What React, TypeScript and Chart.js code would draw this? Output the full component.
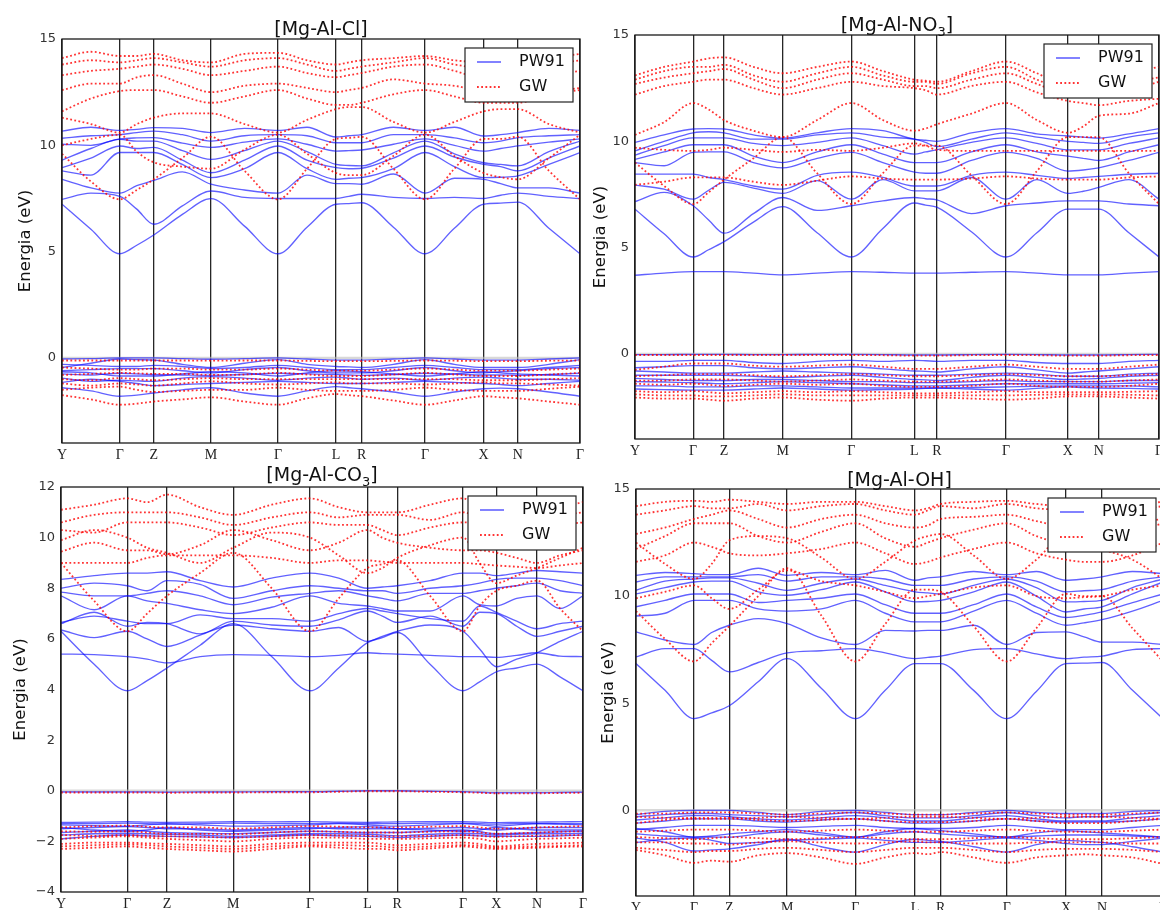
import React, { useEffect, useRef } from 'react';
import { Chart, registerables } from 'chart.js';

Chart.register(...registerables);

// ---------- shared labels ----------
const kLabels = ['Y', 'Γ', 'Z', 'M', 'Γ', 'L', 'R', 'Γ', 'X', 'N', 'Γ'];
const legendLabels = ['PW91', 'GW'];
const yTicks15 = [0, 5, 10, 15];
const yTicks12 = [-4, -2, 0, 2, 4, 6, 8, 10, 12];

// ---------- k-path tick positions (fraction of path) ----------
const kTicksCl = [0, 0.1116, 0.1771, 0.2876, 0.417, 0.529, 0.5786, 0.701, 0.8139, 0.8799, 1];
const kTicksNO3 = [0, 0.111, 0.17, 0.282, 0.413, 0.533, 0.576, 0.708, 0.826, 0.885, 1];
const kTicksCO3 = [0, 0.127, 0.203, 0.33, 0.477, 0.587, 0.644, 0.77, 0.834, 0.912, 1];
const kTicksOH = [0, 0.1102, 0.177, 0.2868, 0.4163, 0.5295, 0.578, 0.7034, 0.8159, 0.8843, 1];

// Each band: values at Y, mid, Γ, mid, Z, mid, M, mid, Γ, mid, L, mid, R, mid, Γ, mid, X, mid, N, mid, Γ

// ---------- [Mg-Al-Cl] ----------
const clPW91 = [
  [7.23, 6.05, 4.9, 5.3, 5.78, 6.75, 7.49, 6.2, 4.9, 6.15, 7.23, 7.26, 7.3, 6.15, 4.9, 6.1, 7.23, 7.28, 7.33, 6.1, 4.9],
  [7.46, 7.75, 7.6, 7.0, 6.29, 7.15, 7.85, 7.55, 7.5, 7.5, 7.5, 7.6, 7.7, 7.55, 7.5, 7.55, 7.5, 7.65, 7.75, 7.6, 7.5],
  [8.4, 8.0, 7.75, 8.1, 8.35, 8.75, 8.17, 7.9, 7.75, 8.6, 8.2, 8.2, 8.17, 8.65, 7.75, 8.45, 8.4, 8.2, 8.0, 8.0, 7.75],
  [8.8, 8.6, 9.66, 9.66, 9.66, 9.1, 8.48, 8.9, 9.66, 8.9, 8.4, 8.45, 8.48, 8.9, 9.66, 9.0, 8.48, 8.5, 8.56, 9.1, 9.66],
  [8.95, 9.4, 9.97, 9.85, 9.9, 9.3, 8.71, 9.3, 9.97, 9.3, 8.95, 8.9, 8.92, 9.4, 9.97, 9.45, 9.1, 9.0, 8.8, 9.4, 9.97],
  [9.3, 9.85, 10.28, 10.2, 10.2, 9.75, 9.34, 9.75, 10.2, 9.7, 9.1, 9.05, 9.03, 9.65, 10.2, 9.6, 9.18, 9.1, 9.03, 9.7, 10.2],
  [10.05, 10.0, 10.3, 10.35, 10.36, 10.1, 9.9, 10.15, 10.3, 10.05, 9.73, 9.75, 9.78, 10.05, 10.3, 10.0, 9.73, 9.85, 9.97, 10.15, 10.3],
  [10.33, 10.45, 10.5, 10.6, 10.67, 10.5, 10.2, 10.45, 10.5, 10.45, 10.12, 10.12, 10.12, 10.5, 10.5, 10.35, 10.12, 10.2, 10.36, 10.45, 10.5],
  [10.67, 10.85, 10.7, 10.75, 10.83, 10.8, 10.6, 10.8, 10.7, 10.85, 10.39, 10.45, 10.5, 10.85, 10.7, 10.85, 10.44, 10.5, 10.6, 10.8, 10.7],
  [-0.05, -0.03, 0, 0, 0, -0.03, -0.06, -0.03, 0, -0.05, -0.1, -0.1, -0.1, -0.05, 0, -0.05, -0.1, -0.1, -0.1, -0.05, 0],
  [-0.45, -0.25, -0.05, -0.08, -0.1, -0.3, -0.45, -0.25, -0.08, -0.3, -0.4, -0.42, -0.45, -0.3, -0.08, -0.3, -0.45, -0.45, -0.45, -0.3, -0.08],
  [-0.3, -0.35, -0.4, -0.4, -0.35, -0.4, -0.5, -0.45, -0.35, -0.45, -0.55, -0.55, -0.55, -0.45, -0.35, -0.45, -0.55, -0.55, -0.55, -0.45, -0.35],
  [-0.6, -0.55, -0.5, -0.5, -0.5, -0.6, -0.7, -0.55, -0.45, -0.6, -0.7, -0.7, -0.7, -0.6, -0.45, -0.6, -0.7, -0.65, -0.6, -0.5, -0.45],
  [-0.65, -0.7, -0.85, -0.85, -0.85, -0.75, -0.65, -0.7, -0.85, -0.7, -0.6, -0.62, -0.65, -0.75, -0.85, -0.75, -0.65, -0.7, -0.75, -0.8, -0.85],
  [-0.75, -0.8, -0.72, -0.75, -0.78, -0.8, -0.82, -0.78, -0.72, -0.75, -0.78, -0.8, -0.82, -0.78, -0.72, -0.76, -0.8, -0.8, -0.82, -0.78, -0.72],
  [-0.95, -1.1, -1.05, -1.08, -1.1, -0.95, -0.88, -0.95, -1.05, -0.95, -0.9, -0.95, -1.0, -0.95, -1.05, -0.95, -0.9, -0.95, -1.0, -1.0, -1.05],
  [-1.15, -1.0, -1.1, -1.2, -1.3, -1.25, -1.2, -1.15, -1.1, -1.15, -1.2, -1.2, -1.2, -1.15, -1.1, -1.15, -1.2, -1.25, -1.3, -1.2, -1.1],
  [-1.4, -1.55, -1.8, -1.75, -1.65, -1.5, -1.4, -1.65, -1.8, -1.55, -1.35, -1.4, -1.45, -1.6, -1.8, -1.6, -1.45, -1.42, -1.45, -1.6, -1.8],
];
const clGW = [
  [9.6, 8.3, 7.46, 7.9, 8.4, 9.4, 10.4, 8.8, 7.46, 8.9, 10.3, 10.35, 10.4, 8.9, 7.46, 8.9, 10.3, 10.3, 10.4, 8.8, 7.46],
  [10.0, 10.3, 10.5, 9.7, 9.2, 9.0, 8.9, 9.8, 10.5, 9.6, 8.7, 8.6, 8.6, 9.5, 10.5, 9.5, 8.7, 8.5, 8.4, 9.4, 10.5],
  [11.3, 11.0, 10.6, 11.0, 11.3, 11.5, 11.5, 11.0, 10.6, 11.2, 11.7, 11.8, 11.8, 11.1, 10.6, 11.1, 11.6, 11.7, 11.7, 11.0, 10.6],
  [11.6, 12.2, 12.55, 12.6, 12.6, 12.3, 12.0, 12.3, 12.6, 12.2, 11.9, 11.9, 12.0, 12.4, 12.6, 12.3, 12.0, 12.0, 12.0, 12.4, 12.6],
  [12.6, 12.9, 12.9, 13.2, 13.3, 12.9, 12.5, 12.8, 12.9, 12.7, 12.5, 12.6, 12.7, 13.1, 12.9, 12.8, 12.5, 12.4, 12.3, 12.5, 12.7],
  [13.3, 13.5, 13.6, 13.7, 13.8, 13.6, 13.3, 13.5, 13.7, 13.4, 13.2, 13.3, 13.4, 13.7, 13.8, 13.5, 13.1, 13.0, 13.0, 13.3, 13.5],
  [13.8, 14.0, 13.9, 14.0, 14.1, 13.9, 13.7, 14.0, 14.1, 13.8, 13.5, 13.6, 13.7, 13.9, 14.1, 13.8, 13.6, 13.5, 13.6, 13.8, 14.0],
  [14.1, 14.4, 14.2, 14.2, 14.3, 14.0, 13.9, 14.3, 14.35, 14.0, 13.8, 13.9, 14.0, 14.1, 14.2, 14.0, 13.9, 13.9, 14.0, 14.1, 14.3],
  [-0.12, -0.12, -0.12, -0.12, -0.12, -0.12, -0.13, -0.12, -0.12, -0.14, -0.15, -0.15, -0.15, -0.14, -0.12, -0.13, -0.15, -0.15, -0.15, -0.13, -0.12],
  [-0.45, -0.5, -0.55, -0.55, -0.5, -0.5, -0.55, -0.55, -0.5, -0.55, -0.6, -0.6, -0.6, -0.55, -0.5, -0.55, -0.6, -0.6, -0.6, -0.55, -0.5],
  [-0.8, -0.75, -0.7, -0.72, -0.75, -0.75, -0.8, -0.78, -0.7, -0.78, -0.85, -0.85, -0.85, -0.78, -0.7, -0.78, -0.85, -0.85, -0.85, -0.78, -0.7],
  [-1.0, -1.05, -0.95, -1.0, -1.05, -1.0, -0.95, -1.0, -1.0, -1.0, -1.0, -1.0, -1.0, -1.0, -1.0, -1.0, -1.05, -1.05, -1.05, -1.0, -0.95],
  [-1.2, -1.3, -1.2, -1.25, -1.3, -1.2, -1.1, -1.2, -1.25, -1.2, -1.15, -1.2, -1.2, -1.2, -1.25, -1.2, -1.15, -1.2, -1.2, -1.25, -1.3],
  [-1.5, -1.4, -1.35, -1.5, -1.6, -1.55, -1.5, -1.5, -1.4, -1.5, -1.55, -1.55, -1.55, -1.5, -1.4, -1.5, -1.55, -1.55, -1.55, -1.45, -1.35],
  [-1.75, -1.95, -2.2, -2.15, -2.05, -1.95, -1.85, -2.05, -2.2, -1.9, -1.7, -1.75, -1.8, -2.0, -2.2, -2.0, -1.8, -1.85, -1.9, -2.05, -2.2],
];

// ---------- [Mg-Al-NO3] ----------
const no3PW91 = [
  [3.7, 3.8, 3.87, 3.87, 3.87, 3.8, 3.72, 3.8, 3.87, 3.84, 3.8, 3.8, 3.8, 3.84, 3.87, 3.8, 3.72, 3.72, 3.72, 3.8, 3.87],
  [6.81, 5.65, 4.56, 4.9, 5.28, 6.2, 6.93, 5.7, 4.56, 5.9, 7.1, 7.0, 6.9, 5.75, 4.56, 5.7, 6.81, 6.81, 6.81, 5.7, 4.56],
  [7.17, 7.6, 6.97, 6.3, 5.68, 6.6, 7.36, 6.75, 6.97, 7.2, 7.36, 7.3, 7.25, 6.6, 6.97, 7.1, 7.2, 7.2, 7.2, 7.05, 6.97],
  [7.94, 7.75, 7.28, 7.7, 8.07, 7.8, 7.55, 8.15, 7.28, 8.2, 7.67, 7.67, 7.67, 8.3, 7.28, 8.2, 7.55, 7.65, 7.83, 8.2, 7.28],
  [8.46, 8.46, 8.46, 8.3, 8.2, 7.9, 7.75, 8.4, 8.55, 8.3, 7.9, 7.9, 7.9, 8.4, 8.55, 8.4, 8.25, 8.3, 8.35, 8.45, 8.5],
  [9.0, 8.85, 9.48, 9.5, 9.5, 9.0, 8.75, 9.2, 9.48, 9.0, 8.55, 8.5, 8.5, 9.1, 9.48, 9.2, 8.6, 8.65, 8.75, 9.1, 9.48],
  [9.15, 9.5, 9.84, 9.84, 9.84, 9.3, 9.0, 9.5, 9.84, 9.4, 9.0, 9.0, 9.0, 9.5, 9.84, 9.5, 9.3, 9.2, 9.1, 9.5, 9.84],
  [9.35, 9.8, 10.16, 10.16, 10.16, 9.9, 9.8, 9.95, 10.16, 9.8, 9.4, 9.5, 9.6, 9.95, 10.16, 9.9, 9.6, 9.6, 9.6, 9.9, 10.16],
  [9.55, 10.0, 10.4, 10.45, 10.4, 10.1, 10.1, 10.3, 10.4, 10.2, 10.1, 9.95, 9.75, 10.1, 10.4, 10.2, 10.0, 9.95, 9.9, 10.2, 10.4],
  [9.95, 10.3, 10.58, 10.6, 10.58, 10.3, 10.15, 10.4, 10.6, 10.5, 10.1, 10.05, 10.0, 10.4, 10.6, 10.35, 10.25, 10.2, 10.15, 10.35, 10.6],
  [-0.03, -0.03, -0.02, -0.02, -0.02, -0.03, -0.03, -0.02, -0.02, -0.03, -0.05, -0.05, -0.05, -0.03, -0.02, -0.03, -0.05, -0.05, -0.05, -0.03, -0.02],
  [-0.35, -0.35, -0.3, -0.3, -0.3, -0.4, -0.45, -0.35, -0.3, -0.35, -0.3, -0.32, -0.35, -0.3, -0.3, -0.4, -0.45, -0.45, -0.45, -0.35, -0.3],
  [-0.65, -0.6, -0.55, -0.55, -0.55, -0.65, -0.7, -0.65, -0.6, -0.7, -0.8, -0.82, -0.85, -0.7, -0.6, -0.75, -0.9, -0.85, -0.8, -0.7, -0.6],
  [-0.8, -0.85, -0.9, -0.9, -0.9, -0.85, -0.8, -0.85, -0.9, -0.95, -1.0, -1.0, -1.0, -0.95, -0.9, -0.95, -1.05, -1.05, -1.05, -0.95, -0.9],
  [-1.0, -1.0, -1.0, -1.0, -1.0, -1.05, -1.1, -1.05, -1.0, -1.1, -1.2, -1.22, -1.25, -1.1, -1.0, -1.1, -1.2, -1.18, -1.15, -1.05, -1.0],
  [-1.15, -1.2, -1.25, -1.25, -1.25, -1.2, -1.2, -1.25, -1.3, -1.3, -1.35, -1.35, -1.35, -1.3, -1.25, -1.3, -1.3, -1.3, -1.3, -1.25, -1.25],
  [-1.3, -1.32, -1.35, -1.38, -1.4, -1.35, -1.3, -1.35, -1.4, -1.45, -1.5, -1.5, -1.5, -1.45, -1.4, -1.4, -1.4, -1.4, -1.4, -1.38, -1.35],
  [-1.5, -1.5, -1.55, -1.55, -1.55, -1.5, -1.5, -1.55, -1.6, -1.6, -1.6, -1.6, -1.6, -1.58, -1.55, -1.52, -1.5, -1.5, -1.5, -1.5, -1.55],
  [-1.65, -1.68, -1.7, -1.7, -1.7, -1.65, -1.6, -1.65, -1.7, -1.68, -1.65, -1.62, -1.6, -1.65, -1.7, -1.62, -1.55, -1.58, -1.6, -1.62, -1.65],
];
const no3GW = [
  [9.0, 7.9, 7.05, 7.6, 8.2, 9.2, 10.2, 8.5, 7.05, 8.5, 9.8, 9.8, 9.8, 8.4, 7.05, 8.6, 10.2, 10.2, 10.2, 8.5, 7.05],
  [7.95, 8.1, 8.3, 8.3, 8.3, 8.1, 7.95, 8.15, 8.35, 8.25, 8.2, 8.2, 8.2, 8.25, 8.35, 8.25, 8.2, 8.2, 8.2, 8.3, 8.35],
  [9.7, 9.6, 9.55, 9.6, 9.7, 9.6, 9.5, 9.6, 9.55, 9.7, 9.9, 9.8, 9.6, 9.55, 9.55, 9.55, 9.55, 9.55, 9.55, 9.55, 9.55],
  [10.3, 10.9, 11.8, 11.5, 11.0, 10.5, 10.2, 11.0, 11.8, 11.0, 10.5, 10.6, 10.8, 11.3, 11.8, 11.0, 10.4, 10.7, 11.2, 11.3, 11.8],
  [12.2, 12.6, 12.8, 12.9, 12.9, 12.5, 12.2, 12.5, 12.8, 12.6, 12.5, 12.4, 12.2, 12.6, 12.8, 12.3, 11.9, 11.8, 11.7, 11.9, 12.0],
  [12.7, 13.0, 13.2, 13.3, 13.4, 12.9, 12.5, 12.9, 13.2, 12.9, 12.6, 12.6, 12.5, 12.9, 13.2, 12.7, 12.2, 12.2, 12.1, 12.4, 12.8],
  [12.9, 13.3, 13.5, 13.5, 13.6, 13.1, 12.8, 13.2, 13.5, 13.1, 12.8, 12.8, 12.7, 13.2, 13.5, 12.9, 12.4, 12.4, 12.5, 12.8, 13.0],
  [13.1, 13.5, 13.75, 13.9, 13.95, 13.5, 13.2, 13.5, 13.75, 13.3, 12.9, 12.85, 12.8, 13.3, 13.75, 13.2, 12.6, 12.7, 12.8, 13.2, 13.5],
  [-0.05, -0.05, -0.05, -0.05, -0.05, -0.05, -0.05, -0.05, -0.05, -0.06, -0.08, -0.08, -0.08, -0.06, -0.05, -0.06, -0.08, -0.08, -0.08, -0.06, -0.05],
  [-0.75, -0.6, -0.45, -0.45, -0.45, -0.55, -0.6, -0.55, -0.5, -0.6, -0.7, -0.7, -0.7, -0.6, -0.5, -0.6, -0.7, -0.7, -0.7, -0.6, -0.5],
  [-1.05, -1.0, -0.95, -0.95, -0.95, -1.0, -1.05, -1.0, -0.95, -1.0, -1.05, -1.05, -1.05, -1.0, -0.95, -1.0, -1.05, -1.05, -1.05, -1.0, -0.95],
  [-1.25, -1.25, -1.2, -1.2, -1.2, -1.25, -1.3, -1.25, -1.2, -1.25, -1.3, -1.3, -1.3, -1.25, -1.2, -1.25, -1.3, -1.3, -1.3, -1.25, -1.2],
  [-1.4, -1.45, -1.4, -1.45, -1.5, -1.45, -1.4, -1.45, -1.4, -1.5, -1.55, -1.55, -1.55, -1.5, -1.4, -1.5, -1.55, -1.55, -1.55, -1.5, -1.4],
  [-1.75, -1.8, -1.75, -1.8, -1.85, -1.8, -1.75, -1.8, -1.75, -1.8, -1.85, -1.85, -1.85, -1.8, -1.75, -1.8, -1.8, -1.8, -1.8, -1.78, -1.75],
  [-1.9, -1.95, -1.95, -2.0, -2.0, -1.95, -1.9, -1.95, -1.95, -1.95, -1.95, -1.95, -1.95, -1.95, -1.95, -1.92, -1.9, -1.9, -1.9, -1.92, -1.95],
  [-2.05, -2.1, -2.1, -2.15, -2.2, -2.1, -2.05, -2.15, -2.2, -2.1, -2.05, -2.05, -2.05, -2.1, -2.15, -2.1, -2.0, -2.0, -2.0, -2.05, -2.1],
];

// ---------- [Mg-Al-CO3] ----------
const co3PW91 = [
  [6.3, 5.0, 3.95, 4.35, 4.85, 5.75, 6.6, 5.3, 3.95, 4.85, 5.85, 6.05, 6.25, 5.0, 3.95, 4.3, 4.7, 4.85, 5.0, 4.5, 3.95],
  [5.4, 5.38, 5.3, 5.2, 5.05, 5.3, 5.38, 5.35, 5.3, 5.35, 5.45, 5.42, 5.4, 5.35, 5.3, 5.3, 5.27, 5.35, 5.45, 5.32, 5.3],
  [6.35, 6.05, 6.3, 6.0, 5.7, 6.15, 6.55, 6.4, 6.3, 6.45, 5.9, 6.1, 6.3, 6.55, 6.3, 5.6, 4.9, 5.2, 5.45, 5.9, 6.3],
  [6.6, 7.05, 6.5, 6.65, 6.6, 6.2, 6.7, 6.55, 6.5, 6.75, 7.1, 6.9, 6.65, 6.9, 6.5, 7.05, 7.0, 6.5, 6.1, 6.3, 6.5],
  [6.65, 6.9, 6.7, 6.6, 6.6, 6.95, 6.8, 6.8, 6.7, 7.0, 7.2, 7.1, 7.0, 6.8, 6.7, 7.3, 7.05, 6.7, 6.4, 6.6, 6.7],
  [7.7, 7.15, 7.7, 7.5, 7.4, 7.15, 7.0, 7.25, 7.7, 7.4, 7.3, 7.2, 7.1, 7.1, 7.7, 7.35, 7.3, 7.6, 7.7, 7.2, 7.7],
  [7.85, 7.7, 7.7, 7.8, 7.9, 7.7, 7.35, 7.65, 7.8, 7.9, 7.7, 7.6, 7.5, 7.8, 7.8, 7.9, 8.0, 8.1, 8.2, 7.9, 7.8],
  [8.0, 8.2, 8.1, 7.9, 8.3, 8.15, 7.6, 7.9, 8.1, 8.0, 7.9, 7.9, 7.8, 8.0, 8.1, 8.2, 8.35, 8.4, 8.4, 8.3, 8.1],
  [8.35, 8.5, 8.6, 8.6, 8.65, 8.3, 8.05, 8.4, 8.6, 8.4, 8.0, 8.05, 8.1, 8.3, 8.6, 8.6, 8.5, 8.6, 8.7, 8.65, 8.6],
  [-0.05, -0.05, -0.05, -0.05, -0.06, -0.05, -0.05, -0.04, -0.04, -0.02, 0.0, 0.0, 0.0, -0.02, -0.04, -0.06, -0.08, -0.08, -0.08, -0.07, -0.06],
  [-1.25, -1.24, -1.22, -1.24, -1.25, -1.24, -1.22, -1.23, -1.22, -1.24, -1.25, -1.24, -1.23, -1.22, -1.22, -1.24, -1.26, -1.25, -1.24, -1.23, -1.22],
  [-1.3, -1.3, -1.28, -1.3, -1.32, -1.3, -1.28, -1.3, -1.3, -1.28, -1.3, -1.3, -1.3, -1.28, -1.28, -1.3, -1.32, -1.3, -1.3, -1.3, -1.3],
  [-1.35, -1.38, -1.4, -1.35, -1.3, -1.35, -1.4, -1.38, -1.35, -1.3, -1.35, -1.38, -1.4, -1.35, -1.3, -1.35, -1.4, -1.35, -1.3, -1.32, -1.35],
  [-1.45, -1.55, -1.6, -1.55, -1.45, -1.55, -1.6, -1.55, -1.5, -1.45, -1.42, -1.45, -1.5, -1.55, -1.6, -1.55, -1.45, -1.5, -1.55, -1.55, -1.55],
  [-1.5, -1.45, -1.42, -1.45, -1.5, -1.5, -1.55, -1.5, -1.45, -1.5, -1.5, -1.5, -1.5, -1.48, -1.45, -1.5, -1.55, -1.5, -1.45, -1.45, -1.45],
  [-1.65, -1.6, -1.55, -1.6, -1.65, -1.68, -1.7, -1.65, -1.6, -1.62, -1.65, -1.65, -1.65, -1.6, -1.55, -1.62, -1.7, -1.68, -1.65, -1.62, -1.6],
  [-1.75, -1.7, -1.68, -1.7, -1.72, -1.75, -1.8, -1.75, -1.7, -1.7, -1.72, -1.75, -1.78, -1.72, -1.68, -1.7, -1.75, -1.72, -1.7, -1.7, -1.68],
  [-1.9, -1.8, -1.75, -1.78, -1.8, -1.82, -1.85, -1.8, -1.75, -1.78, -1.8, -1.82, -1.85, -1.8, -1.75, -1.78, -1.8, -1.8, -1.8, -1.78, -1.75],
];
const co3GW = [
  [9.0, 7.5, 6.3, 7.0, 7.7, 8.6, 9.4, 8.0, 6.3, 7.6, 8.8, 8.95, 9.1, 7.7, 6.3, 7.3, 7.9, 8.1, 8.3, 7.2, 6.3],
  [9.0, 9.0, 9.0, 9.2, 9.3, 9.3, 9.3, 9.2, 9.0, 9.1, 9.1, 9.05, 9.0, 9.0, 9.0, 8.95, 8.9, 8.85, 8.8, 8.9, 9.0],
  [9.45, 9.8, 9.5, 9.5, 9.35, 9.7, 10.3, 9.9, 9.5, 9.8, 10.3, 10.0, 9.8, 9.6, 9.5, 9.5, 9.4, 9.2, 9.0, 9.3, 9.5],
  [9.9, 10.3, 10.0, 9.6, 9.4, 9.0, 9.6, 10.2, 10.0, 9.3, 8.6, 8.8, 9.2, 9.7, 10.0, 9.0, 8.2, 8.5, 8.8, 9.2, 9.6],
  [10.3, 10.2, 10.6, 10.6, 10.6, 10.4, 10.1, 10.4, 10.6, 10.5, 10.5, 10.3, 10.1, 10.4, 10.6, 10.5, 10.0, 10.1, 10.3, 10.5, 10.6],
  [10.6, 10.9, 11.0, 11.0, 11.0, 10.8, 10.5, 10.8, 11.0, 10.8, 10.9, 10.9, 10.9, 10.7, 11.0, 10.8, 10.7, 10.8, 10.9, 10.9, 11.0],
  [11.1, 11.3, 11.55, 11.4, 11.7, 11.2, 10.9, 11.3, 11.55, 11.2, 11.0, 11.0, 11.0, 11.3, 11.55, 11.2, 11.0, 10.9, 11.0, 11.2, 11.4],
  [-0.07, -0.07, -0.07, -0.07, -0.08, -0.07, -0.07, -0.06, -0.06, -0.04, -0.02, -0.02, -0.02, -0.04, -0.06, -0.08, -0.1, -0.1, -0.1, -0.09, -0.08],
  [-1.45, -1.4, -1.38, -1.42, -1.45, -1.45, -1.5, -1.45, -1.4, -1.42, -1.45, -1.45, -1.45, -1.42, -1.4, -1.45, -1.5, -1.48, -1.45, -1.42, -1.4],
  [-1.6, -1.62, -1.6, -1.65, -1.7, -1.7, -1.72, -1.65, -1.6, -1.62, -1.65, -1.65, -1.65, -1.62, -1.6, -1.65, -1.7, -1.68, -1.65, -1.62, -1.6],
  [-1.75, -1.78, -1.75, -1.78, -1.8, -1.82, -1.85, -1.8, -1.75, -1.76, -1.78, -1.8, -1.8, -1.78, -1.75, -1.78, -1.82, -1.8, -1.78, -1.76, -1.75],
  [-1.9, -1.85, -1.8, -1.85, -1.9, -1.95, -2.0, -1.9, -1.85, -1.85, -1.9, -1.9, -1.9, -1.88, -1.85, -1.9, -2.0, -1.95, -1.9, -1.88, -1.85],
  [-2.1, -2.05, -2.05, -2.08, -2.1, -2.15, -2.2, -2.1, -2.05, -2.05, -2.05, -2.1, -2.15, -2.1, -2.05, -2.1, -2.2, -2.15, -2.1, -2.08, -2.05],
  [-2.2, -2.15, -2.12, -2.15, -2.2, -2.25, -2.3, -2.2, -2.15, -2.15, -2.18, -2.2, -2.25, -2.2, -2.15, -2.18, -2.25, -2.22, -2.2, -2.18, -2.15],
  [-2.3, -2.25, -2.2, -2.25, -2.3, -2.35, -2.4, -2.3, -2.2, -2.25, -2.3, -2.3, -2.35, -2.28, -2.2, -2.25, -2.3, -2.28, -2.25, -2.22, -2.2],
];

// ---------- [Mg-Al-OH] ----------
const ohPW91 = [
  [6.85, 5.6, 4.28, 4.55, 4.88, 6.0, 7.08, 5.7, 4.28, 5.6, 6.85, 6.85, 6.85, 5.6, 4.28, 5.55, 6.85, 6.87, 6.9, 5.6, 4.28],
  [7.16, 7.55, 7.55, 7.0, 6.46, 6.9, 7.35, 7.45, 7.55, 7.35, 7.08, 7.14, 7.2, 7.5, 7.55, 7.3, 7.08, 7.15, 7.2, 7.5, 7.55],
  [8.33, 7.95, 7.74, 8.3, 8.64, 8.95, 8.72, 8.05, 7.74, 8.4, 8.37, 8.4, 8.4, 8.64, 7.74, 8.3, 8.33, 8.1, 7.85, 7.85, 7.74],
  [9.07, 9.2, 9.8, 9.8, 9.8, 9.4, 9.3, 9.4, 9.8, 9.2, 8.8, 8.8, 8.8, 9.3, 9.8, 9.2, 8.64, 8.75, 8.9, 9.3, 9.8],
  [9.5, 9.8, 10.1, 10.1, 10.1, 9.7, 9.8, 9.9, 10.1, 9.6, 9.2, 9.2, 9.2, 9.6, 10.1, 9.5, 9.0, 9.1, 9.26, 9.7, 10.1],
  [10.1, 10.4, 10.66, 10.7, 10.7, 10.2, 10.04, 10.3, 10.66, 10.2, 9.73, 9.75, 9.8, 10.2, 10.66, 10.0, 9.26, 9.4, 9.5, 10.1, 10.66],
  [10.27, 10.7, 10.8, 10.85, 10.85, 10.6, 10.27, 10.6, 10.8, 10.5, 10.2, 10.15, 10.1, 10.5, 10.8, 10.4, 9.73, 9.75, 9.8, 10.4, 10.8],
  [10.66, 10.9, 10.9, 10.9, 10.9, 11.0, 10.7, 10.9, 10.9, 10.8, 10.5, 10.5, 10.5, 10.8, 10.9, 10.7, 10.2, 10.25, 10.3, 10.7, 10.9],
  [10.97, 11.1, 11.05, 11.0, 11.0, 11.3, 10.97, 11.1, 11.0, 11.2, 10.74, 10.85, 10.9, 11.15, 11.0, 11.15, 10.74, 10.8, 10.9, 11.15, 11.05],
  [-0.2, -0.05, 0, 0, 0, -0.1, -0.2, -0.05, 0, -0.1, -0.2, -0.2, -0.2, -0.1, 0, -0.1, -0.15, -0.15, -0.15, -0.05, 0],
  [-0.3, -0.2, -0.15, -0.15, -0.2, -0.25, -0.3, -0.2, -0.1, -0.25, -0.35, -0.35, -0.35, -0.25, -0.1, -0.25, -0.35, -0.3, -0.3, -0.2, -0.1],
  [-0.45, -0.35, -0.25, -0.25, -0.3, -0.4, -0.45, -0.35, -0.25, -0.35, -0.5, -0.5, -0.5, -0.35, -0.25, -0.4, -0.5, -0.5, -0.5, -0.35, -0.25],
  [-0.6, -0.5, -0.4, -0.4, -0.4, -0.5, -0.55, -0.45, -0.4, -0.5, -0.6, -0.6, -0.6, -0.5, -0.4, -0.5, -0.55, -0.55, -0.55, -0.5, -0.4],
  [-0.9, -0.8, -0.7, -0.7, -0.7, -0.75, -0.8, -0.75, -0.7, -0.8, -0.85, -0.85, -0.85, -0.8, -0.7, -0.8, -0.9, -0.9, -0.9, -0.8, -0.7],
  [-0.85, -1.0, -1.25, -1.2, -1.1, -1.0, -0.9, -1.05, -1.25, -1.0, -0.85, -0.9, -0.95, -1.1, -1.25, -1.05, -0.95, -1.0, -1.05, -1.15, -1.25],
  [-1.1, -1.2, -1.25, -1.25, -1.25, -1.1, -1.0, -1.15, -1.25, -1.1, -1.0, -1.05, -1.1, -1.2, -1.25, -1.2, -1.15, -1.15, -1.15, -1.2, -1.25],
  [-1.5, -1.35, -1.3, -1.4, -1.55, -1.5, -1.4, -1.35, -1.3, -1.4, -1.5, -1.5, -1.5, -1.4, -1.3, -1.4, -1.55, -1.6, -1.6, -1.45, -1.3],
  [-1.3, -1.5, -1.9, -1.85, -1.8, -1.6, -1.35, -1.7, -1.95, -1.6, -1.35, -1.4, -1.45, -1.7, -1.95, -1.6, -1.4, -1.45, -1.5, -1.7, -1.95],
];
const ohGW = [
  [9.3, 8.0, 6.95, 7.8, 8.6, 10.0, 11.3, 9.1, 6.95, 8.7, 10.3, 10.3, 10.2, 8.6, 6.95, 8.5, 10.1, 10.0, 10.0, 8.5, 6.95],
  [9.9, 10.2, 10.5, 9.9, 9.4, 10.3, 11.2, 10.7, 10.5, 10.2, 9.9, 10.0, 10.1, 10.4, 10.5, 10.0, 9.9, 9.95, 10.0, 10.3, 10.5],
  [12.5, 11.5, 10.8, 11.5, 12.6, 12.8, 12.7, 11.8, 10.8, 11.6, 12.6, 12.8, 12.9, 11.9, 10.8, 11.7, 12.9, 12.6, 12.2, 11.7, 10.8],
  [11.6, 11.9, 12.5, 12.3, 12.0, 11.9, 12.0, 12.2, 12.5, 12.0, 11.5, 11.6, 11.8, 12.2, 12.5, 12.0, 11.7, 11.6, 11.6, 11.9, 12.5],
  [12.2, 12.8, 13.4, 13.4, 13.4, 12.8, 12.5, 13.0, 13.4, 12.7, 12.3, 12.5, 12.7, 13.1, 13.4, 12.8, 12.4, 12.3, 12.5, 13.0, 13.4],
  [12.9, 13.2, 13.6, 13.8, 14.0, 13.6, 13.2, 13.6, 13.8, 13.4, 13.2, 13.3, 13.6, 13.7, 13.8, 13.5, 13.2, 13.1, 13.2, 13.4, 13.6],
  [13.8, 14.0, 14.2, 14.1, 14.1, 14.3, 14.0, 14.2, 14.3, 14.0, 13.8, 14.0, 14.2, 14.1, 14.3, 14.1, 14.0, 13.9, 13.8, 14.0, 14.2],
  [14.2, 14.4, 14.45, 14.4, 14.5, 14.4, 14.3, 14.4, 14.4, 14.2, 14.0, 14.1, 14.3, 14.4, 14.45, 14.3, 14.2, 14.2, 14.3, 14.3, 14.4],
  [-0.15, -0.15, -0.1, -0.1, -0.1, -0.15, -0.2, -0.15, -0.1, -0.15, -0.2, -0.2, -0.2, -0.15, -0.1, -0.15, -0.2, -0.2, -0.2, -0.15, -0.1],
  [-0.3, -0.35, -0.4, -0.4, -0.4, -0.35, -0.3, -0.35, -0.4, -0.35, -0.3, -0.3, -0.3, -0.35, -0.4, -0.35, -0.3, -0.3, -0.3, -0.35, -0.4],
  [-0.6, -0.45, -0.35, -0.35, -0.35, -0.45, -0.5, -0.45, -0.4, -0.5, -0.55, -0.55, -0.55, -0.5, -0.4, -0.5, -0.6, -0.6, -0.6, -0.5, -0.4],
  [-1.0, -0.95, -0.9, -0.9, -0.9, -0.95, -1.0, -0.95, -0.9, -0.95, -1.0, -1.0, -1.0, -0.95, -0.9, -0.95, -1.0, -1.0, -1.0, -0.95, -0.9],
  [-1.25, -1.3, -1.35, -1.3, -1.25, -1.3, -1.35, -1.3, -1.25, -1.3, -1.35, -1.35, -1.35, -1.3, -1.25, -1.3, -1.35, -1.35, -1.35, -1.3, -1.25],
  [-1.5, -1.5, -1.55, -1.55, -1.6, -1.5, -1.45, -1.5, -1.55, -1.5, -1.45, -1.5, -1.5, -1.55, -1.55, -1.5, -1.5, -1.5, -1.5, -1.55, -1.55],
  [-1.75, -1.85, -1.95, -1.9, -1.9, -1.8, -1.75, -1.85, -1.95, -1.85, -1.75, -1.75, -1.75, -1.85, -1.95, -1.85, -1.8, -1.8, -1.8, -1.85, -1.95],
  [-1.85, -2.1, -2.45, -2.35, -2.4, -2.1, -2.0, -2.2, -2.5, -2.2, -2.0, -2.05, -1.95, -2.2, -2.45, -2.2, -2.1, -2.05, -2.1, -2.2, -2.5],
];

// ---------- panel layout ----------
type TitlePart = { text: string; sub?: boolean };
type Panel = {
  title: TitlePart[];
  kTicks: number[];
  pw91: number[][];
  gw: number[][];
  yMin: number;
  yMax: number;
  yTicks: number[];
  canvas: { x: number; y: number; w: number; h: number };
  area: { l: number; t: number; r: number; b: number };
  yTitleOffset: number;
  titleGap: number;
};

const panels: Panel[] = [
  {
    title: [{ text: '[Mg-Al-Cl]' }],
    kTicks: kTicksCl, pw91: clPW91, gw: clGW, yMin: -4, yMax: 15, yTicks: yTicks15,
    canvas: { x: 0, y: 0, w: 592, h: 470 },
    area: { l: 62, t: 39, r: 580, b: 443 }, yTitleOffset: 16, titleGap: 4.5,
  },
  {
    title: [{ text: '[Mg-Al-NO' }, { text: '3', sub: true }, { text: ']' }],
    kTicks: kTicksNO3, pw91: no3PW91, gw: no3GW, yMin: -4, yMax: 15, yTicks: yTicks15,
    canvas: { x: 580, y: 0, w: 590, h: 470 },
    area: { l: 635, t: 35, r: 1159, b: 439 }, yTitleOffset: 10.5, titleGap: 4.5,
  },
  {
    title: [{ text: '[Mg-Al-CO' }, { text: '3', sub: true }, { text: ']' }],
    kTicks: kTicksCO3, pw91: co3PW91, gw: co3GW, yMin: -4, yMax: 12, yTicks: yTicks12,
    canvas: { x: 0, y: 455, w: 600, h: 455 },
    area: { l: 61, t: 487, r: 583, b: 892 }, yTitleOffset: 11.3, titleGap: 6,
  },
  {
    title: [{ text: '[Mg-Al-OH]' }],
    kTicks: kTicksOH, pw91: ohPW91, gw: ohGW, yMin: -4, yMax: 15, yTicks: yTicks15,
    canvas: { x: 580, y: 455, w: 595, h: 455 },
    area: { l: 636, t: 489, r: 1163, b: 896 }, yTitleOffset: 18.5, titleGap: 3.5,
  },
];

const BLUE = 'rgba(0,0,255,0.62)';
const RED = 'rgba(255,0,0,0.8)';
const FONT = '"DejaVu Sans", sans-serif';

function kGrid(ticks: number[]): number[] {
  const g: number[] = [];
  for (let i = 0; i < ticks.length; i++) {
    g.push(ticks[i]);
    if (i < ticks.length - 1) g.push((ticks[i] + ticks[i + 1]) / 2);
  }
  return g;
}

function fmt(v: number): string {
  return v < 0 ? '\u2212' + Math.abs(v) : String(v);
}

function decorPlugin(p: Panel) {
  return {
    id: 'decor',
    beforeDatasetsDraw(chart: any) {
      const { ctx, chartArea: a, scales } = chart;
      const y0 = scales.y.getPixelForValue(0);
      ctx.save();
      ctx.strokeStyle = 'rgba(190,190,190,0.6)';
      ctx.lineWidth = 2.5;
      ctx.beginPath();
      ctx.moveTo(a.left, y0);
      ctx.lineTo(a.right, y0);
      ctx.stroke();
      ctx.restore();
    },
    afterDraw(chart: any) {
      const { ctx, chartArea: a } = chart;
      ctx.save();
      // frame
      ctx.strokeStyle = '#1a1a1a';
      ctx.lineWidth = 1.3;
      ctx.strokeRect(a.left, a.top, a.right - a.left, a.bottom - a.top);

      // title
      const mainFont = '19px ' + FONT;
      const subFont = '13px ' + FONT;
      let total = 0;
      for (const part of p.title) {
        ctx.font = part.sub ? subFont : mainFont;
        total += ctx.measureText(part.text).width;
      }
      let x = (a.left + a.right) / 2 - total / 2;
      const base = a.top - p.titleGap;
      ctx.fillStyle = '#111';
      ctx.textBaseline = 'alphabetic';
      ctx.textAlign = 'left';
      for (const part of p.title) {
        ctx.font = part.sub ? subFont : mainFont;
        ctx.fillText(part.text, x, part.sub ? base + 5 : base);
        x += ctx.measureText(part.text).width;
      }

      // legend
      const w = 108, h = 54;
      const x0 = Math.min(a.right, chart.width - 2) - 7 - w;
      const yy0 = a.top + 9;
      ctx.fillStyle = '#fff';
      ctx.fillRect(x0, yy0, w, h);
      ctx.strokeStyle = '#222';
      ctx.lineWidth = 1.2;
      ctx.strokeRect(x0, yy0, w, h);
      const rows = [yy0 + 14, yy0 + 39];
      const styles = [
        { color: BLUE, width: 1.6, dash: [] as number[] },
        { color: RED, width: 1.8, dash: [1.8, 2.4] },
      ];
      for (let i = 0; i < 2; i++) {
        ctx.strokeStyle = styles[i].color;
        ctx.lineWidth = styles[i].width;
        ctx.setLineDash(styles[i].dash);
        ctx.beginPath();
        ctx.moveTo(x0 + 12, rows[i]);
        ctx.lineTo(x0 + 36, rows[i]);
        ctx.stroke();
        ctx.setLineDash([]);
        ctx.fillStyle = '#111';
        ctx.font = '16px ' + FONT;
        ctx.textBaseline = 'middle';
        ctx.fillText(legendLabels[i], x0 + 54, rows[i]);
      }
      ctx.restore();
    },
  };
}

function BandPanel({ p }: { p: Panel }) {
  const ref = useRef<HTMLCanvasElement | null>(null);
  useEffect(() => {
    if (!ref.current) return;
    const grid = kGrid(p.kTicks);
    const mk = (band: number[], gw: boolean) => ({
      data: band.map((v, i) => ({ x: grid[i], y: v })),
      borderColor: gw ? RED : BLUE,
      borderWidth: gw ? 1.8 : 1.35,
      borderDash: gw ? [1.8, 2.4] : [],
      pointRadius: 0,
      fill: false,
      cubicInterpolationMode: 'monotone' as const,
    });
    const datasets = [...p.gw.map((b) => mk(b, true)), ...p.pw91.map((b) => mk(b, false))];
    const c = p.canvas;
    const a = p.area;
    const chart = new Chart(ref.current, {
      type: 'line',
      data: { datasets },
      options: {
        animation: false,
        responsive: false,
        maintainAspectRatio: false,
        devicePixelRatio: 1,
        events: [],
        layout: {
          autoPadding: false,
          padding: { left: 0, top: a.t - c.y, right: c.x + c.w - a.r, bottom: 0 },
        },
        plugins: { legend: { display: false }, tooltip: { enabled: false }, title: { display: false } },
        scales: {
          x: {
            type: 'linear',
            min: 0,
            max: 1,
            afterBuildTicks: (s: any) => {
              s.ticks = p.kTicks.map((v) => ({ value: v }));
            },
            afterFit: (s: any) => {
              s.height = c.y + c.h - a.b;
            },
            ticks: {
              autoSkip: false,
              maxRotation: 0,
              minRotation: 0,
              padding: 4,
              color: '#222',
              font: { family: '"Liberation Serif", serif', size: 14 },
              callback: (_v: any, i: number) => kLabels[i],
            },
            grid: { color: 'rgba(0,0,0,0.85)', lineWidth: 1.3, drawTicks: false },
            border: { display: false },
          },
          y: {
            type: 'linear',
            min: p.yMin,
            max: p.yMax,
            afterBuildTicks: (s: any) => {
              s.ticks = p.yTicks.map((v) => ({ value: v }));
            },
            afterFit: (s: any) => {
              s.width = a.l - c.x;
            },
            ticks: {
              padding: 6,
              color: '#333',
              font: { family: FONT, size: 13 },
              callback: (v: any) => fmt(Number(v)),
            },
            grid: { display: false, drawTicks: false },
            border: { display: false },
            title: {
              display: true,
              text: 'Energia (eV)',
              color: '#111',
              font: { family: FONT, size: 16.5 },
              padding: { top: p.yTitleOffset, bottom: 0 },
            },
          },
        },
      },
      plugins: [decorPlugin(p)],
    } as any);
    return () => chart.destroy();
  }, [p]);
  return (
    <canvas
      ref={ref}
      width={p.canvas.w}
      height={p.canvas.h}
      style={{ position: 'absolute', left: p.canvas.x, top: p.canvas.y, width: p.canvas.w, height: p.canvas.h }}
    />
  );
}

export default function App() {
  return (
    <div style={{ position: 'absolute', left: 0, top: 0, width: 1160, height: 910, overflow: 'hidden', background: '#fff' }}>
      {panels.map((p, i) => (
        <BandPanel key={i} p={p} />
      ))}
    </div>
  );
}
